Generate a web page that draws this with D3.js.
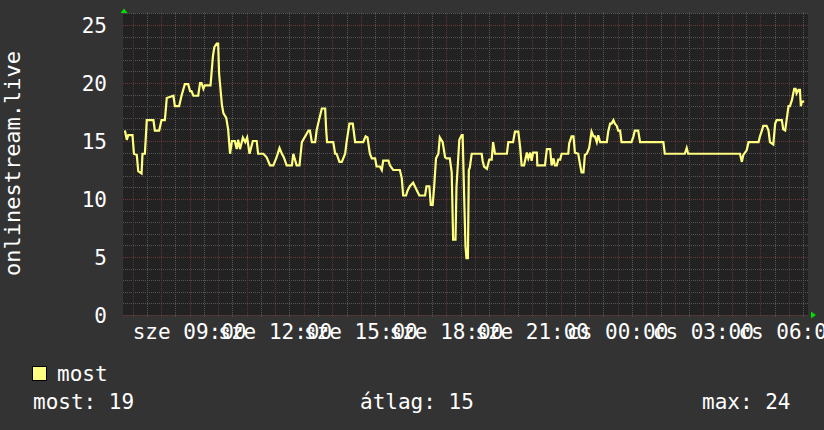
<!DOCTYPE html>
<html>
<head>
<meta charset="UTF-8" />
<title>onlinestream.live</title>
<script src="https://cdn.jsdelivr.net/npm/d3@7"></script>
<style>
html,body{margin:0;padding:0;background:#333333;}
svg{display:block;}
text{font-family:'DejaVu Sans Mono',monospace;fill:#ffffff;}
</style>
</head>
<body>
<div id="chart"></div>
<script type="text/javascript">

// minutes after 06:40 (szerda) and viewer count at that moment
var minutes=[4,8,11,20,23,29,32,39,41,46,50,64,67,76,81,88,92,106,109,118,123,130,137,141,144,148,158,162,165,169,172,184,189,192,197,200,202,208,211,217,221,225,229,235,239,242,246,252,257,261,266,273,281,284,295,302,309,316,323,329,334,338,344,355,358,365,371,376,390,393,397,404,407,412,418,425,427,429,442,446,449,455,460,467,470,476,483,488,505,510,514,519,523,530,533,540,544,547,558,561,568,582,586,589,595,598,603,610,617,623,635,638,644,647,651,654,658,663,666,672,677,680,687,691,694,699,701,707,712,714,717,720,722,725,727,729,733,754,756,759,765,770,775,778,782,807,810,820,824,831,835,838,843,849,852,856,859,862,870,871,887,891,898,901,905,908,912,915,919,922,936,938,943,947,950,957,961,964,968,971,975,980,985,989,992,996,999,1003,1017,1020,1024,1027,1031,1034,1038,1041,1045,1048,1069,1073,1076,1083,1087,1136,1139,1181,1185,1188,1297,1301,1304,1311,1315,1336,1339,1343,1346,1353,1357,1360,1367,1371,1374,1385,1388,1392,1395,1399,1402,1406,1411,1414,1416,1420,1423,1425,1427,1432];
var viewers=[15.9,15.1,15.5,15.5,13.9,13.8,12.4,12.2,13.9,13.9,16.8,16.8,15.9,15.9,16.8,16.8,18.7,18.9,18.0,18.0,18.9,19.9,19.9,19.3,19.3,18.9,18.9,20.0,20.0,19.5,19.8,19.8,22.3,23.1,23.4,23.4,20.8,18.1,17.4,17.0,16.0,13.9,15.0,15.0,14.3,15.1,14.3,15.3,14.9,15.3,13.9,15.0,15.0,13.9,13.9,13.6,12.9,12.9,13.6,14.4,13.9,13.6,12.9,12.9,13.9,12.9,12.9,14.9,15.9,15.9,14.9,14.9,15.9,16.8,17.8,17.8,16.0,14.9,14.9,13.9,13.9,13.2,13.2,13.9,14.9,16.5,16.5,14.9,14.9,15.4,15.3,13.9,13.5,13.5,12.8,12.8,12.5,13.3,13.3,12.9,12.5,12.5,11.8,10.3,10.3,10.7,11.1,11.4,10.8,10.3,10.3,11.1,11.1,9.5,9.5,11.0,13.5,13.9,15.3,14.9,13.6,13.5,13.5,12.3,6.5,6.5,11.0,15.1,15.5,15.5,10.5,5.9,4.9,4.9,12.5,12.7,13.9,13.9,13.3,12.8,12.6,13.4,13.4,14.9,13.9,13.9,14.9,14.9,15.8,15.8,14.4,12.9,12.9,14.0,13.5,14.0,13.3,14.0,14.0,12.9,12.9,14.3,14.3,12.9,13.5,12.9,12.9,13.4,13.4,13.9,13.9,14.8,15.4,15.4,14.0,13.9,12.9,12.3,12.3,13.8,13.9,14.4,15.8,15.4,15.4,14.9,15.5,14.9,14.9,15.8,16.5,16.5,16.8,16.5,16.3,15.9,15.9,14.9,14.9,15.4,15.9,15.9,14.9,14.9,13.9,13.9,14.4,13.9,13.9,13.2,13.8,14.2,14.9,14.9,15.4,15.9,16.3,16.3,15.9,14.9,14.7,16.5,16.8,16.8,16.0,15.9,16.8,18.0,18.0,18.5,19.5,19.5,19.1,19.4,19.4,18.0,18.4,18.4];

var yTicks=[0,5,10,15,20,25];
var dayNames=['v','h','k','sze','cs','p','szo'];
var legendName='most';
var legendStats=['most: 19','átlag: 15','max: 24'];
var axisTitle='onlinestream.live';

var w=824,h=430;
var plotLeft=123,plotRight=808,plotTop=13.4,plotBottom=315;

var start=new Date(2024,0,3,6,40);   // szerda
var end=d3.timeMinute.offset(start,1440);

var data=minutes.map(function(m,i){
  return {date:d3.timeMinute.offset(start,m),v:viewers[i]};
});

var x=d3.scaleTime().domain([start,end]).range([plotLeft,plotRight]);
var y=d3.scaleLinear().domain([0,26]).range([plotBottom,plotTop]);

var svg=d3.select('#chart').append('svg')
  .attr('width',w)
  .attr('height',h);

svg.append('rect').attr('width',w).attr('height',h).attr('fill','#333333');

// canvas
svg.append('rect')
  .attr('x',plotLeft).attr('y',plotTop)
  .attr('width',plotRight-plotLeft).attr('height',plotBottom-plotTop)
  .attr('fill','#222222');

var grid=svg.append('g').attr('shape-rendering','crispEdges');

function px(v){return Math.round(v)+0.5;}

// vertical grid: 30 perc minor, 1 óra major
x.ticks(d3.timeMinute.every(30)).forEach(function(t){
  if(t.getMinutes()==0) return;
  grid.append('line')
    .attr('x1',px(x(t))).attr('x2',px(x(t)))
    .attr('y1',plotTop-1).attr('y2',plotBottom+2)
    .attr('stroke','#555555').attr('stroke-dasharray','1,1');
});
d3.range(27).forEach(function(v){
  if(v%5==0) return;
  grid.append('line')
    .attr('x1',plotLeft).attr('x2',plotRight)
    .attr('y1',px(y(v))).attr('y2',px(y(v)))
    .attr('stroke','#555555').attr('stroke-dasharray','1,1');
});
x.ticks(d3.timeHour.every(1)).forEach(function(t){
  grid.append('line')
    .attr('x1',px(x(t))).attr('x2',px(x(t)))
    .attr('y1',plotTop-1).attr('y2',plotBottom+3)
    .attr('stroke','#5e3535').attr('stroke-dasharray','1,1');
});
yTicks.forEach(function(v){
  grid.append('line')
    .attr('x1',plotLeft).attr('x2',plotRight)
    .attr('y1',px(y(v))).attr('y2',px(y(v)))
    .attr('stroke','#6a3838').attr('stroke-dasharray','1,1');
});

// y labels
svg.selectAll('text.ylab').data(yTicks).enter().append('text')
  .attr('class','ylab')
  .attr('x',107).attr('y',function(d){return y(d)+7.7;})
  .attr('text-anchor','end')
  .style('font-size','21px')
  .text(function(d){return d;});

// x labels, every 3 hours, centred on the tick (they overlap, as in the original)
var fmt=d3.timeFormat('%H:%M');
svg.selectAll('text.xlab').data(x.ticks(d3.timeHour.every(3))).enter().append('text')
  .attr('class','xlab')
  .attr('x',function(d){return x(d);}).attr('y',338.5)
  .attr('text-anchor','middle')
  .style('font-size','21px')
  .text(function(d){return dayNames[d.getDay()]+' '+fmt(d);});

// vertical title
svg.append('text')
  .attr('transform','translate(19.5,163.5) rotate(-90)')
  .attr('text-anchor','middle')
  .style('font-size','22px')
  .text(axisTitle);

// the line
var line=d3.line()
  .x(function(d){return x(d.date);})
  .y(function(d){return y(d.v);});

svg.append('path')
  .datum(data)
  .attr('d',line)
  .attr('fill','none')
  .attr('stroke','#ffff80')
  .attr('stroke-width',2.2);

// arrows
svg.append('path')
  .attr('d','M'+(plotLeft-2.5)+','+(plotTop-0.5)+' L'+(plotLeft+1)+','+(plotTop-5)+' L'+(plotLeft+4.5)+','+(plotTop-0.5)+' Z')
  .attr('fill','#00dd00');
svg.append('path')
  .attr('d','M'+(plotRight+3)+','+(plotBottom-3.5)+' L'+(plotRight+8)+','+(plotBottom)+' L'+(plotRight+3)+','+(plotBottom+3.5)+' Z')
  .attr('fill','#00dd00');

// legend
svg.append('rect')
  .attr('x',32.5).attr('y',366.5).attr('width',14).attr('height',14)
  .attr('fill','#ffff80').attr('stroke','#000000');
svg.append('text').attr('x',57).attr('y',381).style('font-size','21px').text(legendName);

var statX=[33,360,702];
legendStats.forEach(function(s,i){
  svg.append('text').attr('x',statX[i]).attr('y',409).style('font-size','21px').text(s);
});

</script>
</body>
</html>
